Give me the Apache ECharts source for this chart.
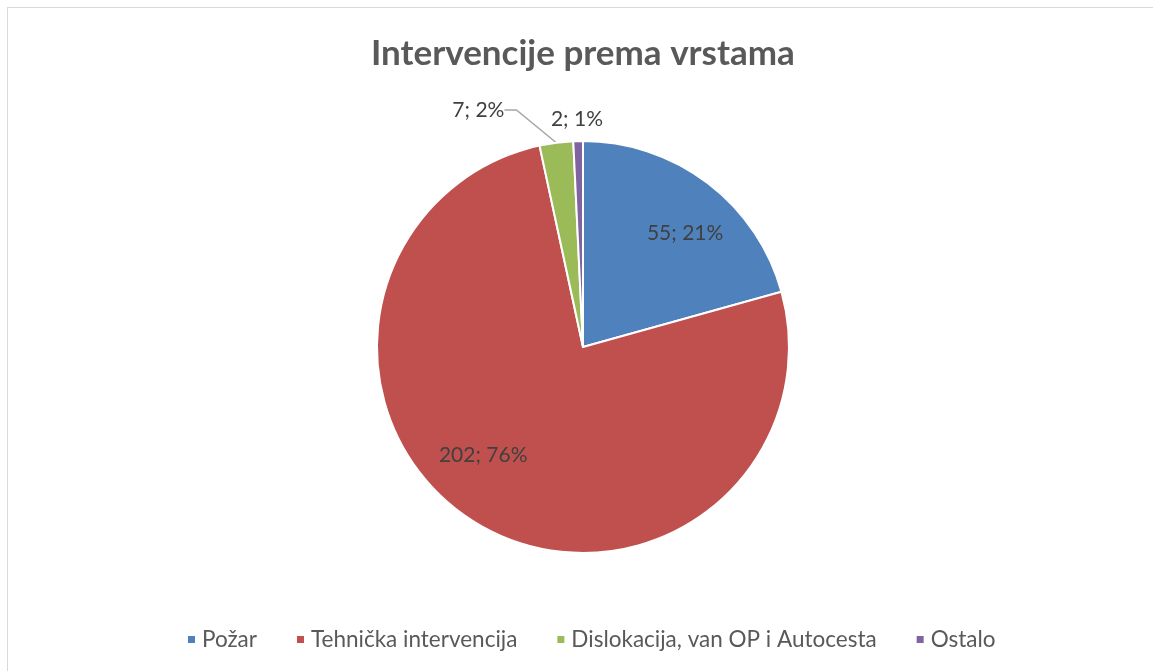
<!DOCTYPE html>
<html>
<head>
<meta charset="utf-8">
<script src="https://cdn.jsdelivr.net/npm/echarts@6/dist/echarts.min.js"></script>
<style>
  html, body { margin: 0; padding: 0; background: #fff; overflow: hidden; }
  #frame {
    position: absolute; left: 7px; top: 7px; width: 1160px; height: 690px;
    border: 1px solid #d9d9d9; box-sizing: border-box;
  }
  #chart { position: absolute; left: 0; top: 0; width: 1153px; height: 671px; }
</style>
</head>
<body>
<div id="frame"></div>
<div id="chart"></div>
<script>
// data
const categories = ['Požar', 'Tehnička intervencija', 'Dislokacija, van OP i Autocesta', 'Ostalo']
const values = [55, 202, 7, 2]
const percents = [21, 76, 2, 1]
const colors = ['#4F81BD', '#C0504D', '#9BBB59', '#8064A2']

const font = 'Lato, "Open Sans", sans-serif'
const chart = echarts.init(document.getElementById('chart'))

// per-slice label tweaks (Excel best-fit placement)
const labelCfg = [
  { position: 'inside', offset: [38, -29] },
  { position: 'inside', offset: [-45, 17] },
  { position: 'outside' },
  { position: 'outside' }
]
const lineCfg = [
  { show: false },
  { show: false },
  { show: true, length: 30, length2: 12 },
  { show: false, length: 8, length2: 0 }
]

const option = {
  animation: false,
  color: colors,
  title: {
    text: 'Intervencije prema vrstama',
    left: 366,
    top: 31,
    textStyle: { fontFamily: font, fontSize: 35, fontWeight: 'bold', color: '#595959' }
  },
  legend: {
    bottom: 15,
    left: 181,
    icon: 'rect',
    itemWidth: 9,
    itemHeight: 9,
    itemGap: 38,
    textStyle: { fontFamily: font, fontSize: 22.5, color: '#595959', padding: [0, 0, 0, 1] },
    data: categories
  },
  series: [
    {
      type: 'pie',
      center: [583, 347],
      radius: [0, 206],
      startAngle: 90,
      clockwise: true,
      avoidLabelOverlap: false,
      itemStyle: { borderColor: '#fff', borderWidth: 2 },
      label: {
        fontFamily: font,
        fontSize: 21,
        color: '#404040',
        formatter: (p) => values[p.dataIndex] + '; ' + percents[p.dataIndex] + '%'
      },
      labelLine: { lineStyle: { color: '#a6a6a6', width: 1.5 }, smooth: false },
      labelLayout: (p) => {
        const r = p.labelRect
        if (p.dataIndex === 3) {
          return { align: 'center', verticalAlign: 'middle', x: r.x + r.width + 4, y: r.y + r.height / 2 - 14 }
        }
        if (p.dataIndex === 2) {
          return { align: 'right', verticalAlign: 'middle', x: r.x + r.width - 31, y: r.y + r.height / 2 - 3 }
        }
        return {}
      },
      emphasis: { disabled: true },
      data: categories.map((name, i) => ({
        name: name,
        value: values[i],
        label: labelCfg[i],
        labelLine: lineCfg[i]
      }))
    }
  ]
}
chart.setOption(option)
</script>
</body>
</html>
